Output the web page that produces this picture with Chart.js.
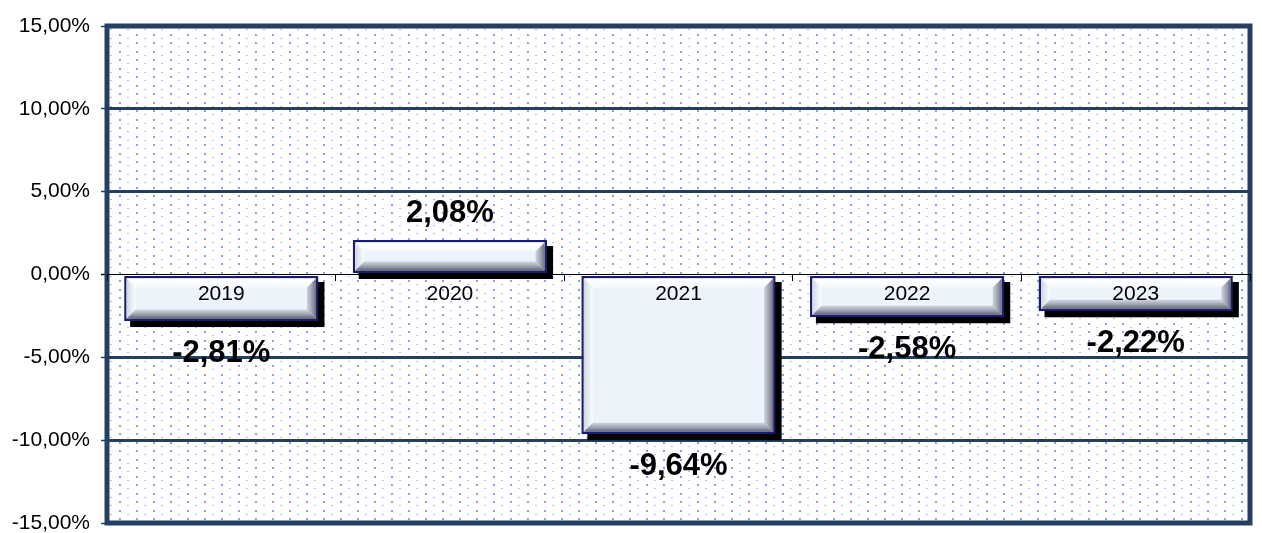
<!DOCTYPE html>
<html>
<head>
    <title>Variazione annua</title>
    <script src="https://cdn.jsdelivr.net/npm/chart.js"></script>
    <style>
        body {
            margin: 0;
            background: #ffffff;
        }

        .chart-box {
            width: 1262px;
            height: 533px;
        }
    </style>
</head>
<body>
    <div class="chart-box">
        <canvas id="changeChart"></canvas>
    </div>

    <script>
        // data
        const years = ['2019', '2020', '2021', '2022', '2023'];
        const changes = [-2.81, 2.08, -9.64, -2.58, -2.22];
        const yTicks = [-15, -10, -5, 0, 5, 10, 15];

        const NAVY = '#243F60';
        const FONT = '"Liberation Sans", Arial, sans-serif';

        function fmtPct(v) {
            return v.toFixed(2).replace('.', ',') + '%';
        }

        // little dotted fill like the Excel pattern
        function makeDotPattern(ctx) {
            const c = document.createElement('canvas');
            c.width = 17;
            c.height = 17;
            const g = c.getContext('2d');
            g.fillStyle = '#ffffff';
            g.fillRect(0, 0, 17, 17);
            g.fillStyle = '#7ea6e2';
            g.fillRect(0, 0, 2, 2);
            g.fillRect(0, 8, 2, 2);
            g.fillStyle = '#aec2e0';
            g.fillRect(8, 4, 2, 1);
            g.fillRect(8, 12, 2, 1);
            return ctx.createPattern(c, 'repeat');
        }

        function barBox(el) {
            const p = el.getProps(['x', 'y', 'base', 'width'], true);
            return {
                left: p.x - p.width / 2,
                right: p.x + p.width / 2,
                top: Math.min(p.y, p.base),
                bottom: Math.max(p.y, p.base)
            };
        }

        const framePlugin = {
            id: 'framePlugin',
            beforeDraw(chart) {
                const { ctx, chartArea: a } = chart;
                ctx.save();
                ctx.fillStyle = makeDotPattern(ctx);
                ctx.fillRect(a.left, a.top, a.right - a.left, a.bottom - a.top);
                ctx.restore();
            },
            beforeDatasetsDraw(chart) {
                const { ctx, chartArea: a } = chart;
                ctx.save();
                ctx.strokeStyle = NAVY;
                ctx.lineWidth = 5;
                ctx.strokeRect(a.left, a.top, a.right - a.left, a.bottom - a.top);
                // drop shadows behind the bars
                ctx.fillStyle = '#000000';
                chart.getDatasetMeta(0).data.forEach(el => {
                    const b = barBox(el);
                    ctx.fillRect(b.left + 6, b.top + 6, b.right - b.left, b.bottom - b.top);
                });
                ctx.restore();
            },
            afterDatasetsDraw(chart) {
                const ctx = chart.ctx;
                ctx.save();
                chart.getDatasetMeta(0).data.forEach(el => {
                    const o = barBox(el);
                    const l = o.left + 2.5, r = o.right - 2.5, t = o.top + 2.5, btm = o.bottom - 2.5;
                    const s = Math.min(9, (btm - t) / 2);

                    let gr = ctx.createLinearGradient(0, t, 0, t + s);
                    gr.addColorStop(0, 'rgba(255,255,255,1)');
                    gr.addColorStop(1, 'rgba(255,255,255,0.5)');
                    ctx.fillStyle = gr;
                    ctx.beginPath();
                    ctx.moveTo(l, t); ctx.lineTo(r, t); ctx.lineTo(r - s, t + s); ctx.lineTo(l + s, t + s);
                    ctx.closePath(); ctx.fill();

                    gr = ctx.createLinearGradient(l, 0, l + s, 0);
                    gr.addColorStop(0, 'rgba(200,208,222,0.8)');
                    gr.addColorStop(1, 'rgba(255,255,255,0.7)');
                    ctx.fillStyle = gr;
                    ctx.beginPath();
                    ctx.moveTo(l, t); ctx.lineTo(l + s, t + s); ctx.lineTo(l + s, btm - s); ctx.lineTo(l, btm);
                    ctx.closePath(); ctx.fill();

                    gr = ctx.createLinearGradient(r - s, 0, r, 0);
                    gr.addColorStop(0, 'rgba(170,175,192,0.5)');
                    gr.addColorStop(1, 'rgba(95,100,120,0.95)');
                    ctx.fillStyle = gr;
                    ctx.beginPath();
                    ctx.moveTo(r, t); ctx.lineTo(r, btm); ctx.lineTo(r - s, btm - s); ctx.lineTo(r - s, t + s);
                    ctx.closePath(); ctx.fill();

                    gr = ctx.createLinearGradient(0, btm - s, 0, btm);
                    gr.addColorStop(0, 'rgba(175,180,196,0.5)');
                    gr.addColorStop(1, 'rgba(85,90,110,0.95)');
                    ctx.fillStyle = gr;
                    ctx.beginPath();
                    ctx.moveTo(l, btm); ctx.lineTo(r, btm); ctx.lineTo(r - s, btm - s); ctx.lineTo(l + s, btm - s);
                    ctx.closePath(); ctx.fill();
                });
                ctx.restore();
            },
            afterDraw(chart) {
                // value labels above / below each bar
                const ctx = chart.ctx;
                ctx.save();
                ctx.font = 'bold 31px ' + FONT;
                ctx.fillStyle = '#000000';
                ctx.textAlign = 'center';
                ctx.textBaseline = 'middle';
                chart.getDatasetMeta(0).data.forEach((el, i) => {
                    const v = changes[i];
                    const y = v >= 0 ? el.y - 27 : el.y + 32;
                    ctx.fillText(fmtPct(v), el.x, y);
                });
                ctx.restore();
            }
        };

        const ctx = document.getElementById('changeChart').getContext('2d');
        new Chart(ctx, {
            type: 'bar',
            data: {
                labels: years,
                datasets: [{
                    data: changes,
                    backgroundColor: '#edf3fa',
                    borderColor: '#1a1c6e',
                    borderWidth: 2.5,
                    borderSkipped: false,
                    barPercentage: 0.85,
                    categoryPercentage: 1
                }]
            },
            options: {
                responsive: true,
                maintainAspectRatio: false,
                animation: false,
                layout: {
                    padding: { top: 26, right: 12, bottom: 10, left: 0 }
                },
                plugins: {
                    legend: { display: false },
                    tooltip: { enabled: false }
                },
                scales: {
                    x: {
                        position: { y: 0 },
                        grid: {
                            z: 1,
                            drawOnChartArea: false,
                            drawTicks: true,
                            tickLength: 6,
                            color: '#000000',
                            lineWidth: 1
                        },
                        border: { display: true, color: '#000000', width: 1, z: 1 },
                        ticks: {
                            z: 1,
                            color: '#000000',
                            padding: 1,
                            font: { family: FONT, size: 21 }
                        }
                    },
                    y: {
                        min: Math.min(...yTicks),
                        max: Math.max(...yTicks),
                        afterFit(scale) {
                            scale.width = 107;
                            scale.paddingTop = 0;
                            scale.paddingBottom = 0;
                        },
                        grid: {
                            color: c => (c.tick && c.tick.value === 0) ? 'rgba(0,0,0,0)' : NAVY,
                            lineWidth: 3,
                            tickLength: 6,
                            tickColor: c => (c.tick && c.tick.value === 0) ? '#000000' : NAVY,
                            tickWidth: 1.5
                        },
                        border: { display: false },
                        ticks: {
                            stepSize: 5,
                            padding: 11,
                            color: '#000000',
                            font: { family: FONT, size: 21 },
                            callback: v => fmtPct(v)
                        }
                    }
                }
            },
            plugins: [framePlugin]
        });
    </script>
</body>
</html>
